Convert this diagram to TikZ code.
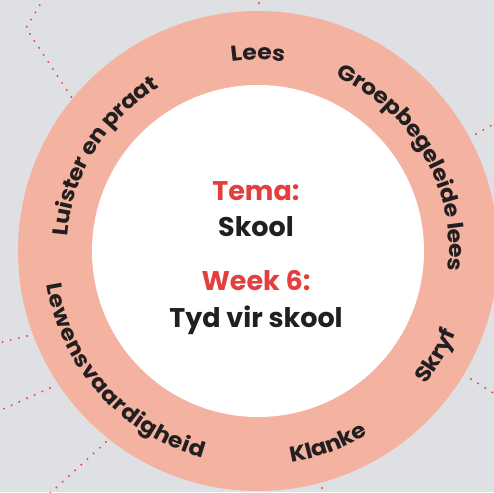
\documentclass[tikz,border=0pt]{standalone}
\usepackage{fontspec}
\setmainfont{Poppins}
\newfontfamily\ringfam[FakeStretch=1.1]{Poppins}
\usetikzlibrary{decorations.text}
\definecolor{bggray}{HTML}{DFE0E4}
\definecolor{ringsalmon}{HTML}{F4B2A0}
\definecolor{temared}{HTML}{E43F3F}
\definecolor{inkdark}{HTML}{231F20}
\definecolor{dotred}{HTML}{E8454A}
\newcommand{\ringfont}{\ringfam\fontsize{21.5}{21.5}\selectfont\bfseries}

\begin{document}
\begin{tikzpicture}[x=1pt, y=1pt,
    dotline/.style={dotred, line width=2.2pt, line cap=round, dash pattern=on 0pt off 8.4pt},
    midtext/.style={font=\fontsize{27}{27}\selectfont\bfseries, anchor=base, inner sep=0pt},
    ringlabel/.style={decorate, decoration={text effects along path, text={#1}, text effects/.cd, text along path, fit text to path, characters={font=\ringfont, text=inkdark, inner sep=0pt}}}]
    % Background
    \useasboundingbox (-258,-241) rectangle (236,251);
    \clip (-258,-241) rectangle (236,251);
    \fill[bggray] (-258,-241) rectangle (236,251);
    % Dotted links behind the ring
    \draw[dotline] (-214,253) -- (-232,223) -- (-186,153) -- (-170,128);
    \draw[dotline] (1,248) -- (1,262);
    \draw[dotline] (218,117) -- (252,136);
    \draw[dotline] (-231,-85) -- (-264,-93);
    \draw[dotline] (-208,-137) -- (-266,-163);
    \draw[dotline] (-152,-191) -- (-212,-246);
    \draw[dotline] (213,-128) -- (248,-150);
    \draw[dotline] (64,-237) -- (66,-252);
    % Ring and centre
    \fill[ringsalmon] (0,0) circle[radius=240pt];
    \fill[white] (0,0) circle[radius=166pt];
    % Ring labels, top half read clockwise
    \path[ringlabel={Lees}] (98:191pt) arc[start angle=98, end angle=82, radius=191pt];
    \path[ringlabel={Groepbegeleide lees}] (66:191pt) arc[start angle=66, end angle=-6, radius=191pt];
    \path[ringlabel={Luister en praat}] (175.5:191pt) arc[start angle=175.5, end angle=121, radius=191pt];
    % Ring labels, bottom half read anticlockwise
    \path[ringlabel={Lewensvaardigheid}] (189:214pt) arc[start angle=189, end angle=255, radius=214pt];
    \path[ringlabel={Klanke}] (279:214pt) arc[start angle=279, end angle=301, radius=214pt];
    \path[ringlabel={Skryf}] (321.5:214pt) arc[start angle=321.5, end angle=337.5, radius=214pt];
    % Theme and week
    \node[midtext, text=temared] (tema) at (-2,50) {Tema:};
    \node[midtext, text=inkdark] (skool) at (-2,14) {Skool};
    \node[midtext, text=temared] (week) at (-2,-39) {Week 6:};
    \node[midtext, text=inkdark] (tyd) at (-2,-76) {Tyd vir skool};
\end{tikzpicture}
\end{document}
